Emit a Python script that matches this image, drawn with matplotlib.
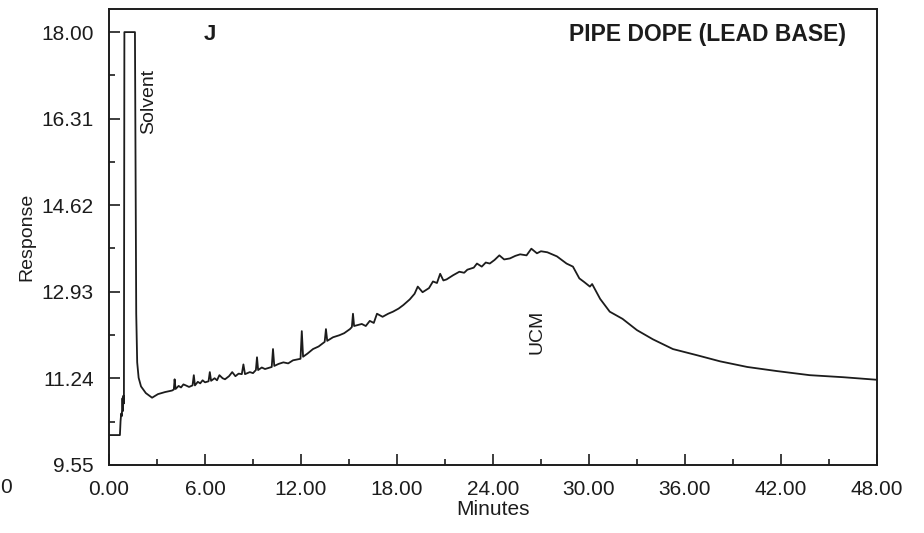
import numpy as np
import matplotlib.pyplot as plt
from matplotlib.ticker import FixedLocator, MultipleLocator

plt.rcParams['font.family'] = ['Liberation Sans', 'DejaVu Sans']
ink = '#1c1c1c'

# chromatogram trace: retention time (min) and detector response
minutes = [
    0.0, 0.68, 0.72, 0.76, 0.80, 0.84, 0.87, 0.90, 0.93, 0.96, 1.62, 1.66,
    1.70, 1.76, 1.85, 2.0, 2.3, 2.69, 3.06, 3.5, 3.94, 4.05, 4.1, 4.16,
    4.35, 4.5, 4.65, 4.8, 5.0, 5.22, 5.3, 5.37, 5.55, 5.7, 5.85, 6.0, 6.22,
    6.3, 6.38, 6.6, 6.75, 6.9, 7.1, 7.25, 7.5, 7.7, 7.9, 8.1, 8.3, 8.4,
    8.5, 8.8, 9.0, 9.18, 9.25, 9.32, 9.55, 9.75, 10.17, 10.25, 10.33,
    10.6, 10.9, 11.2, 11.5, 11.97, 12.05, 12.13, 12.4, 12.75, 13.1, 13.48,
    13.56, 13.64, 14.0, 14.4, 14.7, 15.06, 15.18, 15.25, 15.32, 15.8,
    16.05, 16.3, 16.55, 16.75, 17.1, 17.45, 17.75, 18.1, 18.4, 18.8, 19.1,
    19.3, 19.6, 20.0, 20.25, 20.5, 20.7, 20.9, 21.1, 21.5, 21.9, 22.2,
    22.4, 22.8, 23.0, 23.3, 23.55, 23.8, 24.1, 24.4, 24.7, 25.06, 25.4,
    25.7, 26.1, 26.4, 26.75, 27.0, 27.4, 27.7, 28.0, 28.3, 28.6, 29.0,
    29.4, 29.7, 30.06, 30.2, 30.7, 31.3, 32.1, 33.0, 34.0, 35.25, 36.75,
    38.2, 39.9, 41.75, 43.8, 45.9, 48.0,
]
response = [
    10.13, 10.13, 10.40, 10.55, 10.50, 10.85, 10.60, 10.90, 10.75, 18.00,
    18.00, 15.00, 12.50, 11.55, 11.25, 11.08, 10.95, 10.86, 10.93, 10.97,
    11.00, 11.02, 11.22, 11.03, 11.09, 11.06, 11.12, 11.10, 11.07, 11.10,
    11.30, 11.10, 11.17, 11.14, 11.20, 11.16, 11.18, 11.36, 11.19, 11.24,
    11.20, 11.30, 11.24, 11.22, 11.28, 11.36, 11.28, 11.33, 11.32, 11.51,
    11.32, 11.36, 11.34, 11.40, 11.65, 11.40, 11.45, 11.42, 11.46, 11.81,
    11.48, 11.52, 11.55, 11.53, 11.59, 11.62, 12.16, 11.66, 11.72, 11.81,
    11.86, 11.95, 12.20, 11.97, 12.04, 12.08, 12.12, 12.20, 12.24, 12.50,
    12.26, 12.30, 12.26, 12.36, 12.32, 12.50, 12.44, 12.50, 12.54, 12.60,
    12.67, 12.78, 12.89, 13.03, 12.92, 13.00, 13.13, 13.10, 13.28, 13.15,
    13.17, 13.25, 13.32, 13.30, 13.36, 13.40, 13.48, 13.42, 13.50, 13.48,
    13.55, 13.64, 13.56, 13.58, 13.63, 13.66, 13.64, 13.77, 13.68, 13.72,
    13.70, 13.66, 13.62, 13.55, 13.48, 13.42, 13.19, 13.12, 13.03, 13.08,
    12.79, 12.54, 12.40, 12.18, 12.00, 11.81, 11.69, 11.57, 11.46, 11.38,
    11.30, 11.26, 11.21,
]

y_ticks = [9.55, 11.24, 12.93, 14.62, 16.31, 18.00]
x_ticks = [0, 6, 12, 18, 24, 30, 36, 42, 48]

fig = plt.figure(figsize=(9.24, 5.33), dpi=100)
ax = fig.add_axes([0.118, 0.128, 0.831, 0.855])
ax.plot(minutes, response, color=ink, lw=1.3)

ax.set_xlim(0, 48)
ax.set_ylim(9.55, 18.45)
ax.xaxis.set_major_locator(FixedLocator(x_ticks))
ax.xaxis.set_minor_locator(MultipleLocator(3))
ax.yaxis.set_major_locator(FixedLocator(y_ticks))
ax.yaxis.set_minor_locator(FixedLocator([t + 0.845 for t in y_ticks[:-1]]))
ax.set_xticklabels([f'{v:.2f}' for v in x_ticks])
ax.set_yticklabels([f'{v:.2f}' for v in y_ticks])

ax.tick_params(which='both', direction='in', colors=ink, labelsize=15,
               width=1.2, top=False, right=False)
ax.tick_params(which='major', length=8, pad=11)
ax.tick_params(which='minor', length=4)
for s in ax.spines.values():
    s.set_linewidth(1.4)
    s.set_color(ink)

ax.set_xlabel('Minutes', fontsize=15, color=ink, labelpad=1)
ax.set_ylabel('Response', fontsize=14, color=ink, labelpad=4)

ax.text(6.3, 17.95, 'J', fontsize=16, fontweight='bold', color=ink,
        ha='center', va='center')
ax.text(46.1, 17.95, 'PIPE DOPE (LEAD BASE)', fontsize=16.5,
        fontweight='bold', color=ink, ha='right', va='center')
ax.text(2.45, 16.65, 'Solvent', fontsize=14, rotation=90, color=ink,
        ha='center', va='center')
ax.text(26.75, 12.14, 'UCM', fontsize=14, rotation=90, color=ink,
        ha='center', va='center')

fig.text(0.0, 0.085, '0', fontsize=15, color=ink, ha='left', va='center')

fig.savefig('out.png', dpi=100)
